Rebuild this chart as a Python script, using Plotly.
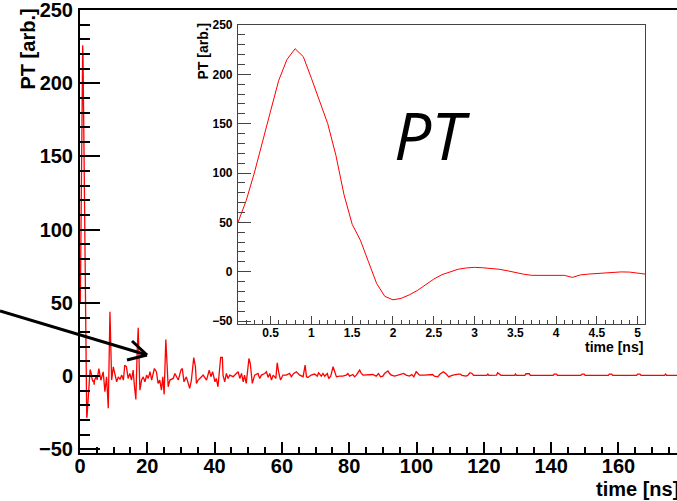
import plotly.graph_objects as go

# ---------------- data ----------------
pulse_t = [0.1, 0.2, 0.3, 0.4, 0.5, 0.6, 0.7, 0.8, 0.9, 1.0,
           1.1, 1.2, 1.3, 1.4, 1.5, 1.6, 1.7, 1.8, 1.9, 2.0,
           2.1, 2.2, 2.3, 2.4, 2.5, 2.6, 2.7, 2.8, 2.9, 3.0,
           3.1, 3.2, 3.3, 3.4, 3.5, 3.6, 3.7, 3.8, 3.9, 4.0,
           4.1, 4.2, 4.3, 4.4, 4.5, 4.6, 4.7, 4.8, 4.9, 5.0, 5.1]
pulse_v = [50, 72, 100, 133, 163, 194, 215, 226, 218, 196,
           172, 150, 118, 78, 48, 32, 10, -12, -25, -28.5,
           -27, -23.5, -19, -13, -7.5, -3, 0, 2.5, 3.8, 4.4,
           4, 3.3, 2.5, 1, -1, -2.5, -3.7, -3.7, -3.3, -3,
           -3.7, -5.8, -3.2, -2.4, -1.8, -1.3, -0.8, -0.2, -0.4, -1.5, -2.5]

ring_t = [5.6, 6.2, 6.9, 7.4, 7.9, 8.4, 8.9, 9.2, 9.4, 9.9,
          10.4, 10.9, 11.4, 11.9, 12.4, 12.9, 13.3, 13.8, 14.3, 14.8,
          15.3, 15.8, 16.1, 16.6, 17.0, 17.3, 17.6, 17.8, 18.3, 18.8,
          19.3, 19.8, 20.3, 20.8, 21.3, 22.1, 22.7, 23.2, 23.7, 24.2,
          24.6, 25.0, 25.5, 25.8, 26.2, 26.7, 27.7, 28.2, 29.2, 30.0,
          30.4, 30.9, 31.6, 32.6, 33.1, 33.8, 34.3, 34.6, 35.1, 35.6,
          36.6, 37.6, 38.4, 38.9, 39.4, 40.1, 40.5, 41.0, 41.5, 41.8,
          42.3, 42.5, 43.0, 43.5, 44.0, 44.5, 45.5, 46.5, 47.0, 47.5,
          48.0, 48.5, 48.9, 49.4, 49.9, 50.2, 50.6, 50.9, 51.2, 51.9,
          52.9, 53.4, 53.9, 54.9, 55.4, 55.9, 56.4, 56.9, 57.4, 58.2,
          58.6, 59.1, 59.6, 60.3, 61.3, 62.3, 62.8, 63.5, 64.3, 65.3,
          66.3, 66.9, 67.3]
ring_v = [5.2, -2.8, 2.9, -10.7, -0.5, -22, 44, 17.7, -2.7, 6.3,
          0.7, -3.9, -0.5, -2.3, 0.7, -2.7, 7.5, 6.3, -1.6, 1.8,
          -2.7, 4.1, -5, -16, 17.7, 33, 6.3, -9.6, -2.7, -0.5,
          -3.9, 0.7, -1.6, 3, -2.7, 5.2, 3, -5, -2.7, -9.6,
          -0.5, -12.5, 25, 10, -7.3, -2.7, -1.6, 1.8, -2.7, 4.1,
          5.2, -3.9, -0.5, -8.4, -2.7, 12.7, 6.3, -5, -2.7, -1.6,
          0.7, -2.7, 4.1, -0.4, 3, -3.9, -1.6, -7.3, 4.1, 12.7,
          12.7, 0.7, -3.9, 1.8, -1.6, 0.7, -0.4, 1.8, 3, -1.6,
          1.8, -3.9, 0.7, -5, 6.4, 12, 8.6, 1.8, -5, 0.7,
          1.8, -1.6, 0.7, 1.8, 3, -0.9, 1.8, -2.7, 0.7, -1.6,
          9.1, 1.8, -2.7, 0.7, 0.7, 1.8, -0.4, 1.8, 3, 0.7,
          -0.4, 7.5, -0.5]

tail_t = [67.7, 68.7, 69.7, 70.5, 70.9, 71.7, 72.2, 72.7, 73.5, 73.9,
          74.5, 75.2, 75.7, 76.2, 77.1, 78.1, 79.1, 79.6, 80.1, 80.6,
          81.1, 81.6, 82.1, 83.1, 83.6, 84.1, 85.1, 87.0, 88.0, 88.7,
          89.3, 90.0, 90.5, 91.5, 92.0, 92.5, 93.5, 94.5, 96.2, 96.9,
          97.9, 98.6, 99.2, 99.9, 100.4, 100.9, 102.4, 104.8, 105.3, 106.3,
          107.0, 107.6, 108.0, 108.8, 109.6, 110.0, 110.8, 112.5, 113.0, 113.5,
          114.7, 115.2, 115.9, 116.5, 117.0, 120.9, 121.2, 121.5, 123.8, 124.1,
          124.6, 125.1, 129.2, 129.4, 129.7, 132.2, 132.5, 133.5, 133.8, 140.6,
          140.9, 141.6, 141.9, 148.8, 149.2, 149.8, 150.1, 157.0, 157.3, 158.0,
          158.3, 165.4, 165.7, 166.4, 166.7, 173.7, 174.0, 174.3, 178.0]
tail_v = [-0.9, 0.7, 1.4, 0, 2.3, 0, 1.8, 0, 1.8, -1.6,
          0, 6.4, 3, -0.5, 0, 0, 0.7, 1.8, 0, 0.7,
          1.1, -0.5, 0.7, 4.1, 1.8, 0.7, 0.7, 1.1, 0, 1.8,
          -0.5, 0, 1.8, 3.6, 1.8, 0.7, 0, 0.7, 1.8, 0.7,
          0, 1.1, -0.5, 3, 1.8, 0.7, 0.7, 1.1, 0, -0.5,
          1.4, 2.3, 3, 1.4, -0.5, 0, 0.7, 1.4, 1.4, 0.5,
          0, 0.5, 2.3, 1.8, 0.5, 0.5, 1.4, 0.5, 0.7, 2.3,
          1.4, 0.5, 0.5, 1.4, 0.5, 0.5, 1.6, 1.6, 0.5, 0.5,
          1.4, 1.4, 0.5, 0.5, 1.4, 1.4, 0.5, 0.5, 1.4, 1.4,
          0.5, 0.5, 1.4, 1.4, 0.5, 0.5, 1.4, 0.5, 0.5]

main_xticks = [0, 20, 40, 60, 80, 100, 120, 140, 160]
yticks = [-50, 0, 50, 100, 150, 200, 250]
inset_xticks = [0.5, 1, 1.5, 2, 2.5, 3, 3.5, 4, 4.5, 5]
inset_xlabels = ["0.5", "1", "1.5", "2", "2.5", "3", "3.5", "4", "4.5", "5"]

time_ns = pulse_t + ring_t + tail_t
pt_arb = pulse_v + ring_v + tail_v

# ---------------- layout helpers ----------------
W, H = 677, 501
L, R, T, B = 80, 0, 10, 48
PW, PH = W - L - R, H - T - B


def px(x):
    return (x - L) / PW


def py(y):
    return (H - B - y) / PH


FONT = "Liberation Sans, Arial, sans-serif"
big = dict(family=FONT, size=20, color="black", weight="bold")
small = dict(family=FONT, size=12, color="black", weight="bold")
title_small = dict(family=FONT, size=14, color="black", weight="bold")

fig = go.Figure()
fig.add_trace(go.Scatter(x=time_ns, y=pt_arb, mode="lines",
                         line=dict(color="#ff0000", width=1.3),
                         xaxis="x", yaxis="y", showlegend=False))
fig.add_trace(go.Scatter(x=pulse_t, y=pulse_v, mode="lines",
                         line=dict(color="#ff0000", width=1),
                         xaxis="x2", yaxis="y2", showlegend=False))

main_ax = dict(showline=True, linecolor="black", linewidth=2, ticks="inside",
               tickcolor="black", tickwidth=2, showgrid=False, zeroline=False,
               tickfont=big, ticklabeloverflow="allow")
fig.update_layout(
    width=W, height=H,
    margin=dict(l=L, r=R, t=T, b=B),
    paper_bgcolor="white", plot_bgcolor="white",
    xaxis=dict(domain=[0, 1], range=[0, 177.4], tickvals=main_xticks,
               ticklen=11, mirror=True, ticklabelstandoff=-6,
               minor=dict(dtick=5, tick0=0, ticks="inside", ticklen=6,
                          tickwidth=1.5, tickcolor="black"),
               **main_ax),
    yaxis=dict(domain=[0, 1], range=[-52.5, 250], tickvals=yticks,
               ticklen=20, mirror=False, ticklabelstandoff=1,
               minor=dict(dtick=10, tick0=0, ticks="inside", ticklen=10,
                          tickwidth=1.5, tickcolor="black"),
               **main_ax),
)

in_ax = dict(showline=True, linecolor="#444444", linewidth=1.2, mirror=True,
             ticks="inside", tickcolor="#444444", tickwidth=1.2,
             showgrid=False, zeroline=False, tickfont=small,
             ticklabeloverflow="allow")
fig.update_layout(
    xaxis2=dict(domain=[px(238), px(645)], range=[0.1, 5.09], anchor="y2",
                tickvals=inset_xticks, ticktext=inset_xlabels, ticklen=8,
                ticklabelstandoff=-3,
                minor=dict(dtick=0.1, tick0=0, ticks="inside", ticklen=4,
                           tickwidth=1, tickcolor="#444444"),
                **in_ax),
    yaxis2=dict(domain=[py(324), py(25)], range=[-53, 250], anchor="x2",
                tickvals=yticks, ticklen=13, ticklabelstandoff=2,
                minor=dict(dtick=10, tick0=0, ticks="inside", ticklen=7,
                           tickwidth=1, tickcolor="#444444"),
                **in_ax),
)

ann = []
ann.append(dict(text="PT [arb.]", textangle=-90, xref="paper", yref="paper",
                x=px(27), y=py(7), xanchor="center", yanchor="top",
                showarrow=False, font=big))
ann.append(dict(text="time [ns]", xref="paper", yref="paper",
                x=px(681), y=py(489), xanchor="right", yanchor="middle",
                showarrow=False, font=big))
ann.append(dict(text="PT [arb.]", textangle=-90, xref="paper", yref="paper",
                x=px(203), y=py(21), xanchor="center", yanchor="top",
                showarrow=False, font=title_small))
ann.append(dict(text="time [ns]", xref="paper", yref="paper",
                x=px(645), y=py(347), xanchor="right", yanchor="middle",
                showarrow=False, font=title_small))
ann.append(dict(text="<i>PT</i>", xref="paper", yref="paper",
                x=px(432), y=py(134), xanchor="center", yanchor="middle",
                showarrow=False,
                font=dict(family="Open Sans, Noto Sans, sans-serif", size=66, color="black")))
fig.update_layout(annotations=ann)

# arrow (open V head)
tip = (147, 355)
arrow_lines = [((0, 311), tip), ((132, 341), tip), ((127, 360), tip)]
shapes = []
for (a, b) in arrow_lines:
    shapes.append(dict(type="line", xref="paper", yref="paper",
                       x0=px(a[0]), y0=py(a[1]), x1=px(b[0]), y1=py(b[1]),
                       line=dict(color="black", width=3)))
fig.update_layout(shapes=shapes)

fig.write_html("out.html")
